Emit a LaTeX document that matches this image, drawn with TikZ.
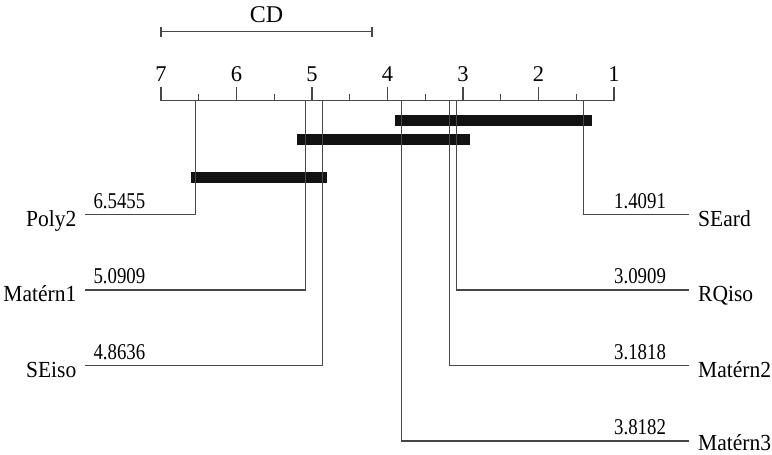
\documentclass[tikz,border=0pt]{standalone}
\usepackage{fontspec}
\setmainfont{Liberation Serif}
\begin{document}
\begin{tikzpicture}[x=1pt,y=-1pt,
  declare function={rx(\r)=161+(7-\r)*75.5;},
  ln/.style={line width=1.2pt, draw=black!72},
  cliq/.style={line width=10.7pt, draw=black!93},
  ticklab/.style={font=\fontsize{22.5}{22.5}\selectfont, anchor=base, inner sep=0pt},
  cdlab/.style={font=\fontsize{24}{24}\selectfont, anchor=base, inner sep=0pt},
  lname/.style={font=\fontsize{21.5}{21.5}\selectfont, yscale=1.07, anchor=base east, inner sep=0pt},
  rname/.style={font=\fontsize{21.5}{21.5}\selectfont, yscale=1.07, anchor=base west, inner sep=0pt},
  num/.style={font=\fontsize{18.8}{18.8}\selectfont, yscale=1.2, anchor=base west, inner sep=0pt},
]
\useasboundingbox (0,0) rectangle (772,455);

% CD bar
\coordinate (cdl) at (161,31.7);
\coordinate (cdr) at (372,31.7);
\draw[ln] (cdl) -- (cdr);
\draw[ln] ([yshift=5pt]cdl) -- ([yshift=-5pt]cdl);
\draw[ln] ([yshift=5pt]cdr) -- ([yshift=-5pt]cdr);
\node[cdlab] (cd) at (266.5,22.7) {CD};

% axis
\coordinate (axl) at ({rx(7)},100.7);
\coordinate (axr) at ({rx(1)},100.7);
\draw[ln] (axl) -- (axr);
\foreach \r in {1,...,7} {
  \coordinate (tk\r) at ({rx(\r)},100.7);
  \draw[ln] (tk\r) -- ++(0,-14);
  \node[ticklab] (tl\r) at ({rx(\r)},81.7) {\r};
}
\foreach \r in {1.5,2.5,3.5,4.5,5.5,6.5} {
  \draw[ln] ({rx(\r)},100.7) -- ++(0,-6.5);
}

% cliques
\draw[cliq] (395,120.4) -- (591.7,120.4);
\draw[cliq] (297,139.5) -- (470,139.5);
\draw[cliq] (191,177.4) -- (326.7,177.4);

% left methods
\coordinate (aP) at ({rx(6.5455)},100.7);
\coordinate (eP) at (85,214.5);
\draw[ln] (aP) |- (eP);
\node[lname] (Poly2) at (76.5,226) {Poly2};
\node[num] (nP) at (93.3,208.3) {6.5455};

\coordinate (aM1) at ({rx(5.0909)},100.7);
\coordinate (eM1) at (85,290);
\draw[ln] (aM1) |- (eM1);
\node[lname] (Matern1) at (76.5,301.5) {Matérn1};
\node[num] (nM1) at (93.3,283.8) {5.0909};

\coordinate (aS) at ({rx(4.8636)},100.7);
\coordinate (eS) at (85,365.7);
\draw[ln] (aS) |- (eS);
\node[lname] (SEiso) at (76.5,377.2) {SEiso};
\node[num] (nS) at (93.3,359.5) {4.8636};

% right methods
\coordinate (aSE) at ({rx(1.4091)},100.7);
\coordinate (eSE) at (689,214.5);
\draw[ln] (aSE) |- (eSE);
\node[rname] (SEard) at (698,226) {SEard};
\node[num] (nSE) at (614,208.3) {1.4091};

\coordinate (aR) at ({rx(3.0909)},100.7);
\coordinate (eR) at (689,290);
\draw[ln] (aR) |- (eR);
\node[rname] (RQiso) at (698,301.5) {RQiso};
\node[num] (nR) at (614,283.8) {3.0909};

\coordinate (aM2) at ({rx(3.1818)},100.7);
\coordinate (eM2) at (689,365.7);
\draw[ln] (aM2) |- (eM2);
\node[rname] (Matern2) at (698,377.2) {Matérn2};
\node[num] (nM2) at (614,359.5) {3.1818};

\coordinate (aM3) at ({rx(3.8182)},100.7);
\coordinate (eM3) at (689,441);
\draw[ln] (aM3) |- (eM3);
\node[rname] (Matern3) at (698,450.5) {Matérn3};
\node[num] (nM3) at (614,434.5) {3.8182};
\end{tikzpicture}
\end{document}
